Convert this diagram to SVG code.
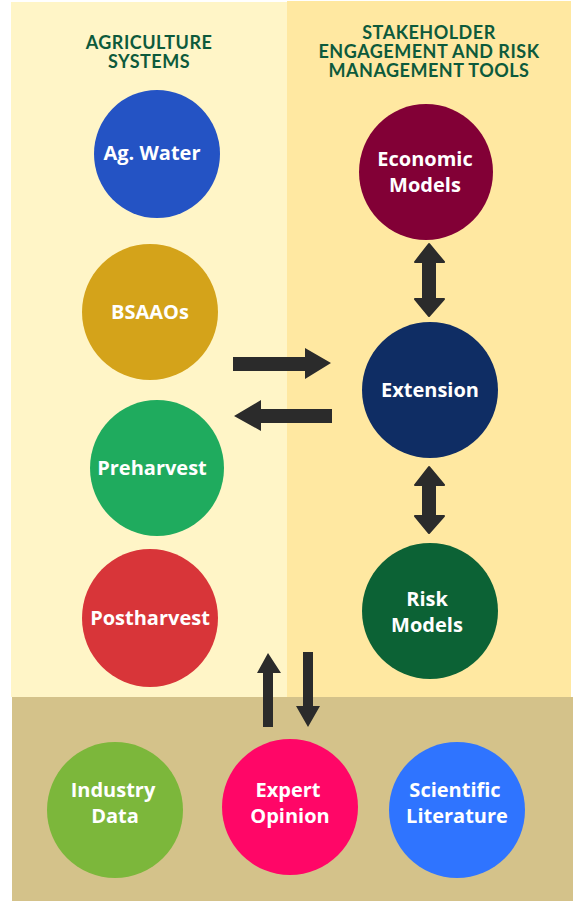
<svg xmlns="http://www.w3.org/2000/svg" width="584" height="906" viewBox="0 0 584 906">
<style>
.hdr{font-family:"Lato","Open Sans",sans-serif;font-weight:bold;font-size:18px;letter-spacing:0.5px;fill:#0D5A3C;text-anchor:middle}
.lbl{font-family:"Open Sans","Liberation Sans",sans-serif;font-weight:bold;font-size:20px;fill:#ffffff;text-anchor:middle}
.arr{fill:#2B2B2B}
</style>
<rect x="0" y="0" width="584" height="906" fill="#ffffff"/>
<rect x="11" y="2" width="276" height="695" fill="#FFF5C7"/>
<rect x="287" y="1" width="284" height="696" fill="#FFE8A1"/>
<rect x="12" y="697" width="561" height="204" fill="#D4C28A"/>
<g id="headers">
<text class="hdr" x="149" y="49">AGRICULTURE</text>
<text class="hdr" x="149" y="68">SYSTEMS</text>
<text class="hdr" x="429" y="39">STAKEHOLDER</text>
<text class="hdr" x="429" y="58">ENGAGEMENT AND RISK</text>
<text class="hdr" x="429" y="77">MANAGEMENT TOOLS</text>
</g>
<g id="ag-water"><ellipse cx="157" cy="154" rx="63" ry="64" fill="#2453C4"/><text class="lbl" x="152" y="160">Ag. Water</text></g>
<g id="bsaaos"><ellipse cx="150" cy="312" rx="68" ry="68" fill="#D4A31A"/><text class="lbl" x="150" y="319">BSAAOs</text></g>
<g id="preharvest"><ellipse cx="157" cy="468" rx="67" ry="68" fill="#1FAB5E"/><text class="lbl" x="152" y="475">Preharvest</text></g>
<g id="postharvest"><ellipse cx="150" cy="618" rx="68" ry="69" fill="#D83539"/><text class="lbl" x="150" y="625">Postharvest</text></g>
<g id="economic-models"><ellipse cx="426" cy="172" rx="67" ry="68" fill="#820036"/><text class="lbl" x="425" y="166">Economic</text><text class="lbl" x="425" y="192">Models</text></g>
<g id="extension"><ellipse cx="430" cy="390" rx="68" ry="68" fill="#0F2D64"/><text class="lbl" x="430" y="397">Extension</text></g>
<g id="risk-models"><ellipse cx="430" cy="611" rx="68" ry="68" fill="#0C6235"/><text class="lbl" x="427" y="606">Risk</text><text class="lbl" x="427" y="632">Models</text></g>
<g id="industry-data"><ellipse cx="115" cy="810" rx="68" ry="68" fill="#7CB73B"/><text class="lbl" x="113" y="797">Industry</text><text class="lbl" x="115" y="823">Data</text></g>
<g id="expert-opinion"><ellipse cx="290" cy="807" rx="68" ry="68" fill="#FF0667"/><text class="lbl" x="288" y="797">Expert</text><text class="lbl" x="290" y="823">Opinion</text></g>
<g id="scientific-literature"><ellipse cx="457" cy="810" rx="68" ry="68" fill="#2F74FF"/><text class="lbl" x="455" y="797">Scientific</text><text class="lbl" x="457" y="823">Literature</text></g>
<g id="connectors">
<polygon class="arr" points="233,357 305,357 305,348 331,363 305,379 305,371 233,371"/>
<polygon class="arr" points="332,409 261,409 261,400 234,416 261,431 261,423 332,423"/>
<polygon class="arr" points="263,727 263,673 257,673 268,653 281,673 273,673 273,727"/>
<polygon class="arr" points="303,652 313,652 313,706 320,706 308,727 296,706 303,706"/>
<polygon class="arr" points="429,244 444,262 435,262 435,299 444,299 429,316 415,299 423,299 423,262 415,262" stroke="#2B2B2B" stroke-width="2" stroke-linejoin="round"/>
<polygon class="arr" points="429,467 444,485 435,485 435,516 444,516 429,533 415,516 423,516 423,485 415,485" stroke="#2B2B2B" stroke-width="2" stroke-linejoin="round"/>
</g>
</svg>
